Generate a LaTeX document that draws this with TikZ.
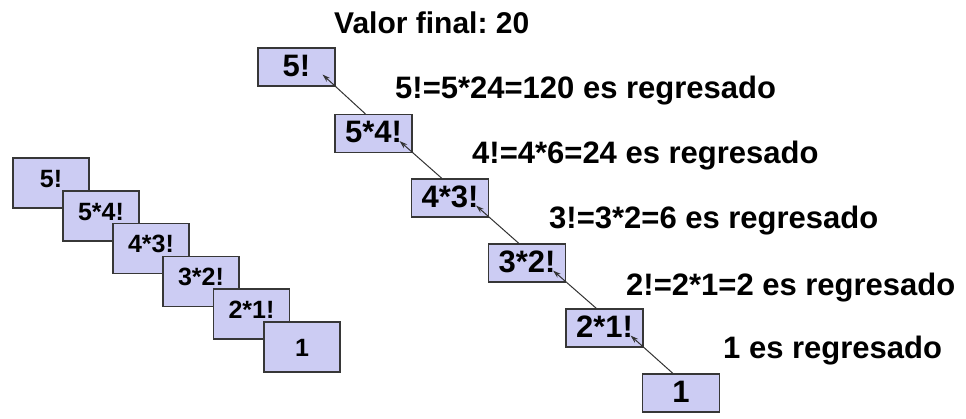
\documentclass[tikz,border=0pt]{standalone}
\usepackage{fontspec}
\setmainfont{Liberation Sans}
\usetikzlibrary{arrows.meta,calc}
\definecolor{boxfill}{RGB}{204,204,243}
\definecolor{boxline}{RGB}{55,55,55}
\definecolor{arrowline}{RGB}{50,50,50}
\frenchspacing
\begin{document}
\begin{tikzpicture}[x=1pt,y=-1pt,
  rbox/.style={draw=boxline, fill=boxfill, line width=1.1pt, minimum width=77pt, minimum height=38pt, inner sep=0pt, font=\bfseries\fontsize{31}{31}\selectfont, text height=22pt, text depth=4pt},
  lbox/.style={draw=boxline, fill=boxfill, line width=1.1pt, minimum width=76pt, minimum height=50pt, inner sep=0pt, font=\bfseries\fontsize{25}{25}\selectfont, text height=18pt, text depth=10pt},
  lbl/.style={anchor=base west, inner sep=0pt, font=\bfseries\fontsize{31}{31}\selectfont},
  ret/.style={draw=arrowline, line width=1pt, -{Stealth[length=8pt,width=5pt]}}]
\useasboundingbox (0,0) rectangle (966,418);
% left stack
\node[lbox] (l1) at (51,183) {5!};
\node[lbox] (l2) at (101,216) {5*4!};
\node[lbox] (l3) at (151,248.5) {4*3!};
\node[lbox] (l4) at (201,281.5) {3*2!};
\node[lbox] (l5) at (251.5,314) {2*1!};
\node[lbox, text depth=0pt] (l6) at (302,347) {1};
% right stack
\node[rbox] (r1) at (296.5,67) {5!};
\node[rbox] (r2) at (373.5,133.5) {5*4!};
\node[rbox] (r3) at (450,198) {4*3!};
\node[rbox] (r4) at (527,263) {3*2!};
\node[rbox] (r5) at (604.5,328) {2*1!};
\node[rbox] (r6) at (681,393) {1};
% return arrows
\draw[ret] ($(r2.north west)+(31pt,0pt)$) -- ($(r1.south east)+(-13pt,12pt)$);
\draw[ret] ($(r3.north west)+(31pt,0pt)$) -- ($(r2.south east)+(-13pt,12pt)$);
\draw[ret] ($(r4.north west)+(31pt,0pt)$) -- ($(r3.south east)+(-13pt,12pt)$);
\draw[ret] ($(r5.north west)+(31pt,0pt)$) -- ($(r4.south east)+(-13pt,12pt)$);
\draw[ret] ($(r6.north west)+(31pt,0pt)$) -- ($(r5.south east)+(-13pt,12pt)$);
% labels
\node[lbl, font=\bfseries\fontsize{30}{30}\selectfont] (vf) at (334,33) {Valor final: 20};
\node[lbl] (t1) at (395,98) {5!=5*24=120 es regresado};
\node[lbl] (t2) at (472,163) {4!=4*6=24 es regresado};
\node[lbl] (t3) at (549,228) {3!=3*2=6 es regresado};
\node[lbl] (t4) at (626,295) {2!=2*1=2 es regresado};
\node[lbl] (t5) at (723,358) {1 es regresado};
\end{tikzpicture}
\end{document}
